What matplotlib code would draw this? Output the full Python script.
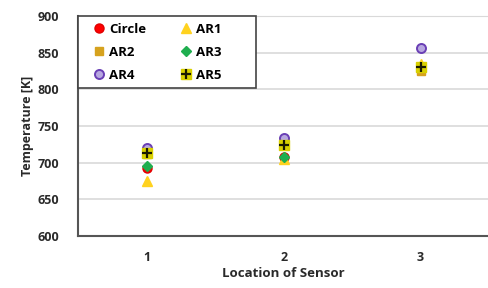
import matplotlib
matplotlib.use('Agg')
from matplotlib import pyplot as plt
from matplotlib.legend_handler import HandlerTuple
from matplotlib.patches import Rectangle

plt.rcParams['font.family'] = ['Open Sans', 'DejaVu Sans']
plt.rcParams['font.weight'] = 'bold'

sensors = [1, 2, 3]
circle = [692, 708, 830]
ar1 = [675, 705, 835]
ar2 = [712, 725, 825]
ar3 = [695, 707, 830]
ar4 = [720, 733, 856]
ar5 = [713, 724, 830]

fig = plt.figure(figsize=(4.89, 2.88), dpi=100)
ax = fig.add_axes([0.16, 0.181, 0.84, 0.763])

for y in [650, 700, 750, 800, 850]:
    ax.axhline(y, color='#d9d9d9', lw=1.2, zorder=0)

h_circle, = ax.plot(sensors, circle, 'o', color='#ff0000', ms=6.5, mec='#e00000', ls='none')
h_ar1, = ax.plot(sensors, ar1, '^', color='#ffd21f', ms=6.5, mec='#ffd21f', ls='none')
h_ar2, = ax.plot(sensors, ar2, 's', color='#d6a21e', ms=5.5, mec='#d6a21e', ls='none')
h_ar3, = ax.plot(sensors, ar3, 'D', color='#1fae4f', ms=5.5, mec='#1fae4f', ls='none')
h_ar4, = ax.plot(sensors, ar4, 'o', color='#b7a7e0', ms=6.5, mec='#6a3fb5', mew=1.4, ls='none')
h_ar5a, = ax.plot(sensors, ar5, 's', color='#d8d000', ms=6.5, mec='#d8d000', ls='none')
h_ar5b, = ax.plot(sensors, ar5, '+', color='#1a1a00', ms=6.5, mew=1.6, ls='none')

ax.set_xlim(0.5, 3.5)
ax.set_ylim(600, 900)
ax.set_xticks(sensors)
ax.set_yticks([600, 650, 700, 750, 800, 850, 900])
ax.tick_params(axis='y', length=0, labelsize=9, colors='#2a2a2a', pad=14)
ax.tick_params(axis='x', length=0, labelsize=9, colors='#2a2a2a', pad=11)
for lab in ax.get_xticklabels() + ax.get_yticklabels():
    lab.set_fontweight('bold')

for s in ['left', 'bottom']:
    ax.spines[s].set_color('#555555')
    ax.spines[s].set_linewidth(1.5)
ax.spines['top'].set_color('#d9d9d9')
ax.spines['right'].set_visible(False)

ax.set_xlabel('Location of Sensor', fontsize=9.5, fontweight='bold', color='#2a2a2a', labelpad=2)
ax.set_ylabel('Temperature [K]', fontsize=9, fontweight='bold', color='#2a2a2a', labelpad=2)

# legend box frame drawn separately so it can be wider than the entries
ax.add_patch(Rectangle((0.0, 0.673), 0.433, 0.327, transform=ax.transAxes,
                       facecolor='white', edgecolor='#444444', lw=1.2, zorder=4,
                       clip_on=False))

leg = ax.legend([h_circle, h_ar2, h_ar4, h_ar1, h_ar3, (h_ar5a, h_ar5b)],
                ['Circle', 'AR2', 'AR4', 'AR1', 'AR3', 'AR5'],
                handler_map={tuple: HandlerTuple(ndivide=1, pad=0)},
                ncol=2, loc='upper left', bbox_to_anchor=(0.0, 1.0),
                prop={'weight': 'bold', 'size': 9.5},
                frameon=False,
                handlelength=2.2, handletextpad=-0.35, columnspacing=1.9,
                labelspacing=0.75, borderaxespad=0.0, borderpad=0.5)
leg.set_zorder(5)

fig.savefig('out.png', dpi=100)
